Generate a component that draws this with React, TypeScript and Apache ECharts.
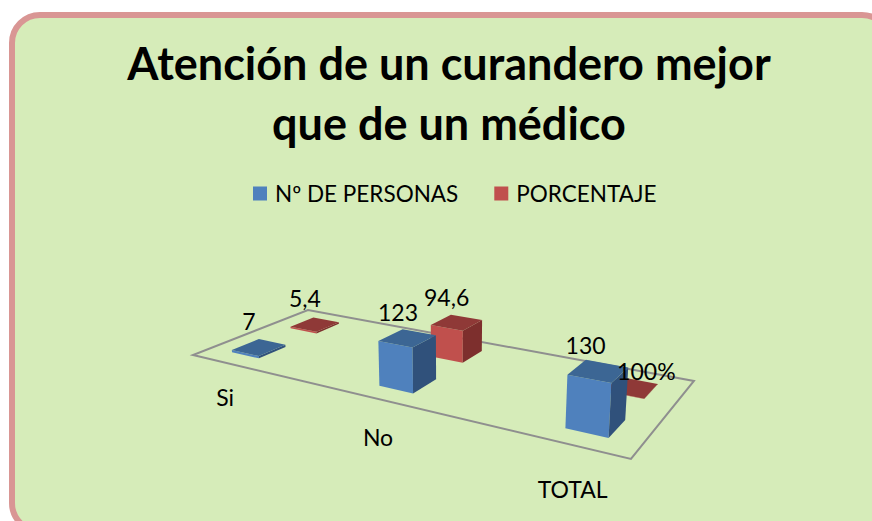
import React, { useEffect, useRef } from "react";
import * as echarts from "echarts";

const titleText = "Atención de un curandero mejor\nque de un médico";
const categories = ["Si", "No", "TOTAL"];
const seriesNames = ["Nº DE PERSONAS", "PORCENTAJE"];
const personas = [7, 123, 130];
const porcentaje = [5.4, 94.6, 1];
const personasLabels = ["7", "123", "130"];
const porcentajeLabels = ["5,4", "94,6", "100%"];

const FONT = "Lato";
const GRID = { left: 100, top: 250, width: 600, height: 46.2 };

// homography of the chart floor (unit square -> screen)
function project(u: number, v: number) {
  const w = -0.2616 * u + 0.1774 * v + 1;
  return {
    x: (272.9 * u + 169.6 * v + 193) / w,
    y: (-16.1 * u + 10.0 * v + 355) / w,
    w,
  };
}

const DU = 0.04;
const DV = 0.11;

function axisU(px: number) {
  return 0.1 + (0.8 * (px - GRID.left)) / GRID.width;
}

const palettes = [
  { front: "#4f81bd", top: "#3c6694", side: "#30517b" },
  { front: "#c0504d", top: "#8f3937", side: "#7d2f2d" },
];

function barRenderer(seriesIdx: number) {
  const v0 = seriesIdx === 0 ? 0.25 : 0.75;
  const pal = palettes[seriesIdx];
  return (_: any, api: any) => {
    const cat = api.value(0);
    const val = api.value(1);
    const p0 = api.coord([cat, 0]);
    const p1 = api.coord([cat, val]);
    const u = axisU(p0[0]);
    const hBase = p0[1] - p1[1];
    const corner = (cu: number, cv: number) => {
      const b = project(cu, cv);
      const h = hBase / b.w;
      const lean = (b.x - 450) * 0.00033 * h;
      return { bot: [b.x + 1, b.y], top: [b.x + 1 + lean, b.y - h] };
    };
    const fl = corner(u - DU, v0 - DV);
    const fr = corner(u + DU, v0 - DV);
    const br = corner(u + DU, v0 + DV);
    const bl = corner(u - DU, v0 + DV);
    return {
      type: "group",
      children: [
        { type: "polygon", shape: { points: [fl.bot, fl.top, fr.top, fr.bot] }, style: { fill: pal.front } },
        { type: "polygon", shape: { points: [fr.bot, fr.top, br.top, br.bot] }, style: { fill: pal.side } },
        { type: "polygon", shape: { points: [fl.top, fr.top, br.top, bl.top] }, style: { fill: pal.top } },
      ],
    };
  };
}

function labelRenderer(seriesIdx: number, labels: string[]) {
  const v0 = seriesIdx === 0 ? 0.25 : 0.75;
  return (_: any, api: any) => {
    const cat = api.value(0);
    const val = api.value(1);
    const p0 = api.coord([cat, 0]);
    const p1 = api.coord([cat, val]);
    const b = project(axisU(p0[0]), v0);
    const h = (p0[1] - p1[1]) / b.w;
    const text = labels[cat];
    const manual = text === "100%";
    return {
      type: "text",
      style: {
        text,
        x: b.x + (manual ? 16 : -9),
        y: b.y - h + (manual ? -16 : -26),
        fontFamily: FONT,
        fontSize: 23,
        fill: "#000",
        align: "center",
        verticalAlign: "middle",
      },
    };
  };
}

function categoryRenderer(_: any, api: any) {
  const cat = api.value(0);
  const p0 = api.coord([cat, 0]);
  const b = project(axisU(p0[0]), 0);
  return {
    type: "text",
    style: {
      text: categories[cat],
      x: b.x - 1,
      y: b.y + 33 / b.w,
      fontFamily: FONT,
      fontSize: 23,
      fill: "#000",
      align: "center",
      verticalAlign: "middle",
    },
  };
}

export default function App() {
  const ref = useRef<HTMLDivElement>(null);
  useEffect(() => {
    const chart = echarts.init(ref.current!, null, { renderer: "svg" });
    const floor = [project(0, 0), project(1, 0), project(1, 1), project(0, 1)].map((p) => [p.x, p.y]);
    const toData = (arr: number[]) => arr.map((v, i) => [i, v]);
    chart.setOption({
      animation: false,
      title: {
        text: titleText,
        left: 449,
        top: 33,
        padding: 0,
        textAlign: "center",
        textStyle: { fontFamily: FONT, fontSize: 45, fontWeight: "bold", color: "#000", lineHeight: 60 },
      },
      legend: {
        data: seriesNames,
        left: 253,
        top: 182,
        padding: 0,
        itemWidth: 14,
        itemHeight: 14,
        itemGap: 36,
        icon: "rect",
        textStyle: { fontFamily: FONT, fontSize: 22.5, color: "#000", padding: [0, 0, 0, 3] },
      },
      grid: GRID,
      xAxis: { type: "category", data: categories, boundaryGap: false, show: false },
      yAxis: { type: "value", min: 0, max: 140, show: false },
      graphic: [
        {
          type: "rect",
          z: -10,
          shape: { x: 12, y: 15, width: 878, height: 516, r: 28 },
          style: { fill: "#d6ecb9", stroke: "#d99694", lineWidth: 6 },
        },
        {
          type: "polygon",
          z: -5,
          shape: { points: floor },
          style: { fill: "none", stroke: "#8f8f8f", lineWidth: 2 },
        },
      ],
      series: [
        {
          name: seriesNames[0],
          type: "custom",
          z: 4,
          itemStyle: { color: palettes[0].front },
          data: toData(personas),
          encode: { x: 0, y: 1 },
          renderItem: barRenderer(0),
        },
        {
          name: seriesNames[1],
          type: "custom",
          z: 3,
          itemStyle: { color: palettes[1].front },
          data: toData(porcentaje),
          encode: { x: 0, y: 1 },
          renderItem: barRenderer(1),
        },
        {
          type: "custom",
          z: 6,
          silent: true,
          data: toData(personas),
          encode: { x: 0, y: 1 },
          renderItem: labelRenderer(0, personasLabels),
        },
        {
          type: "custom",
          z: 6,
          silent: true,
          data: toData(porcentaje),
          encode: { x: 0, y: 1 },
          renderItem: labelRenderer(1, porcentajeLabels),
        },
        {
          type: "custom",
          z: 6,
          silent: true,
          data: categories.map((_, i) => [i, 0]),
          encode: { x: 0, y: 1 },
          renderItem: categoryRenderer,
        },
      ],
    });
    return () => chart.dispose();
  }, []);
  return <div ref={ref} style={{ position: "absolute", left: 0, top: 0, width: 872, height: 521 }} />;
}
